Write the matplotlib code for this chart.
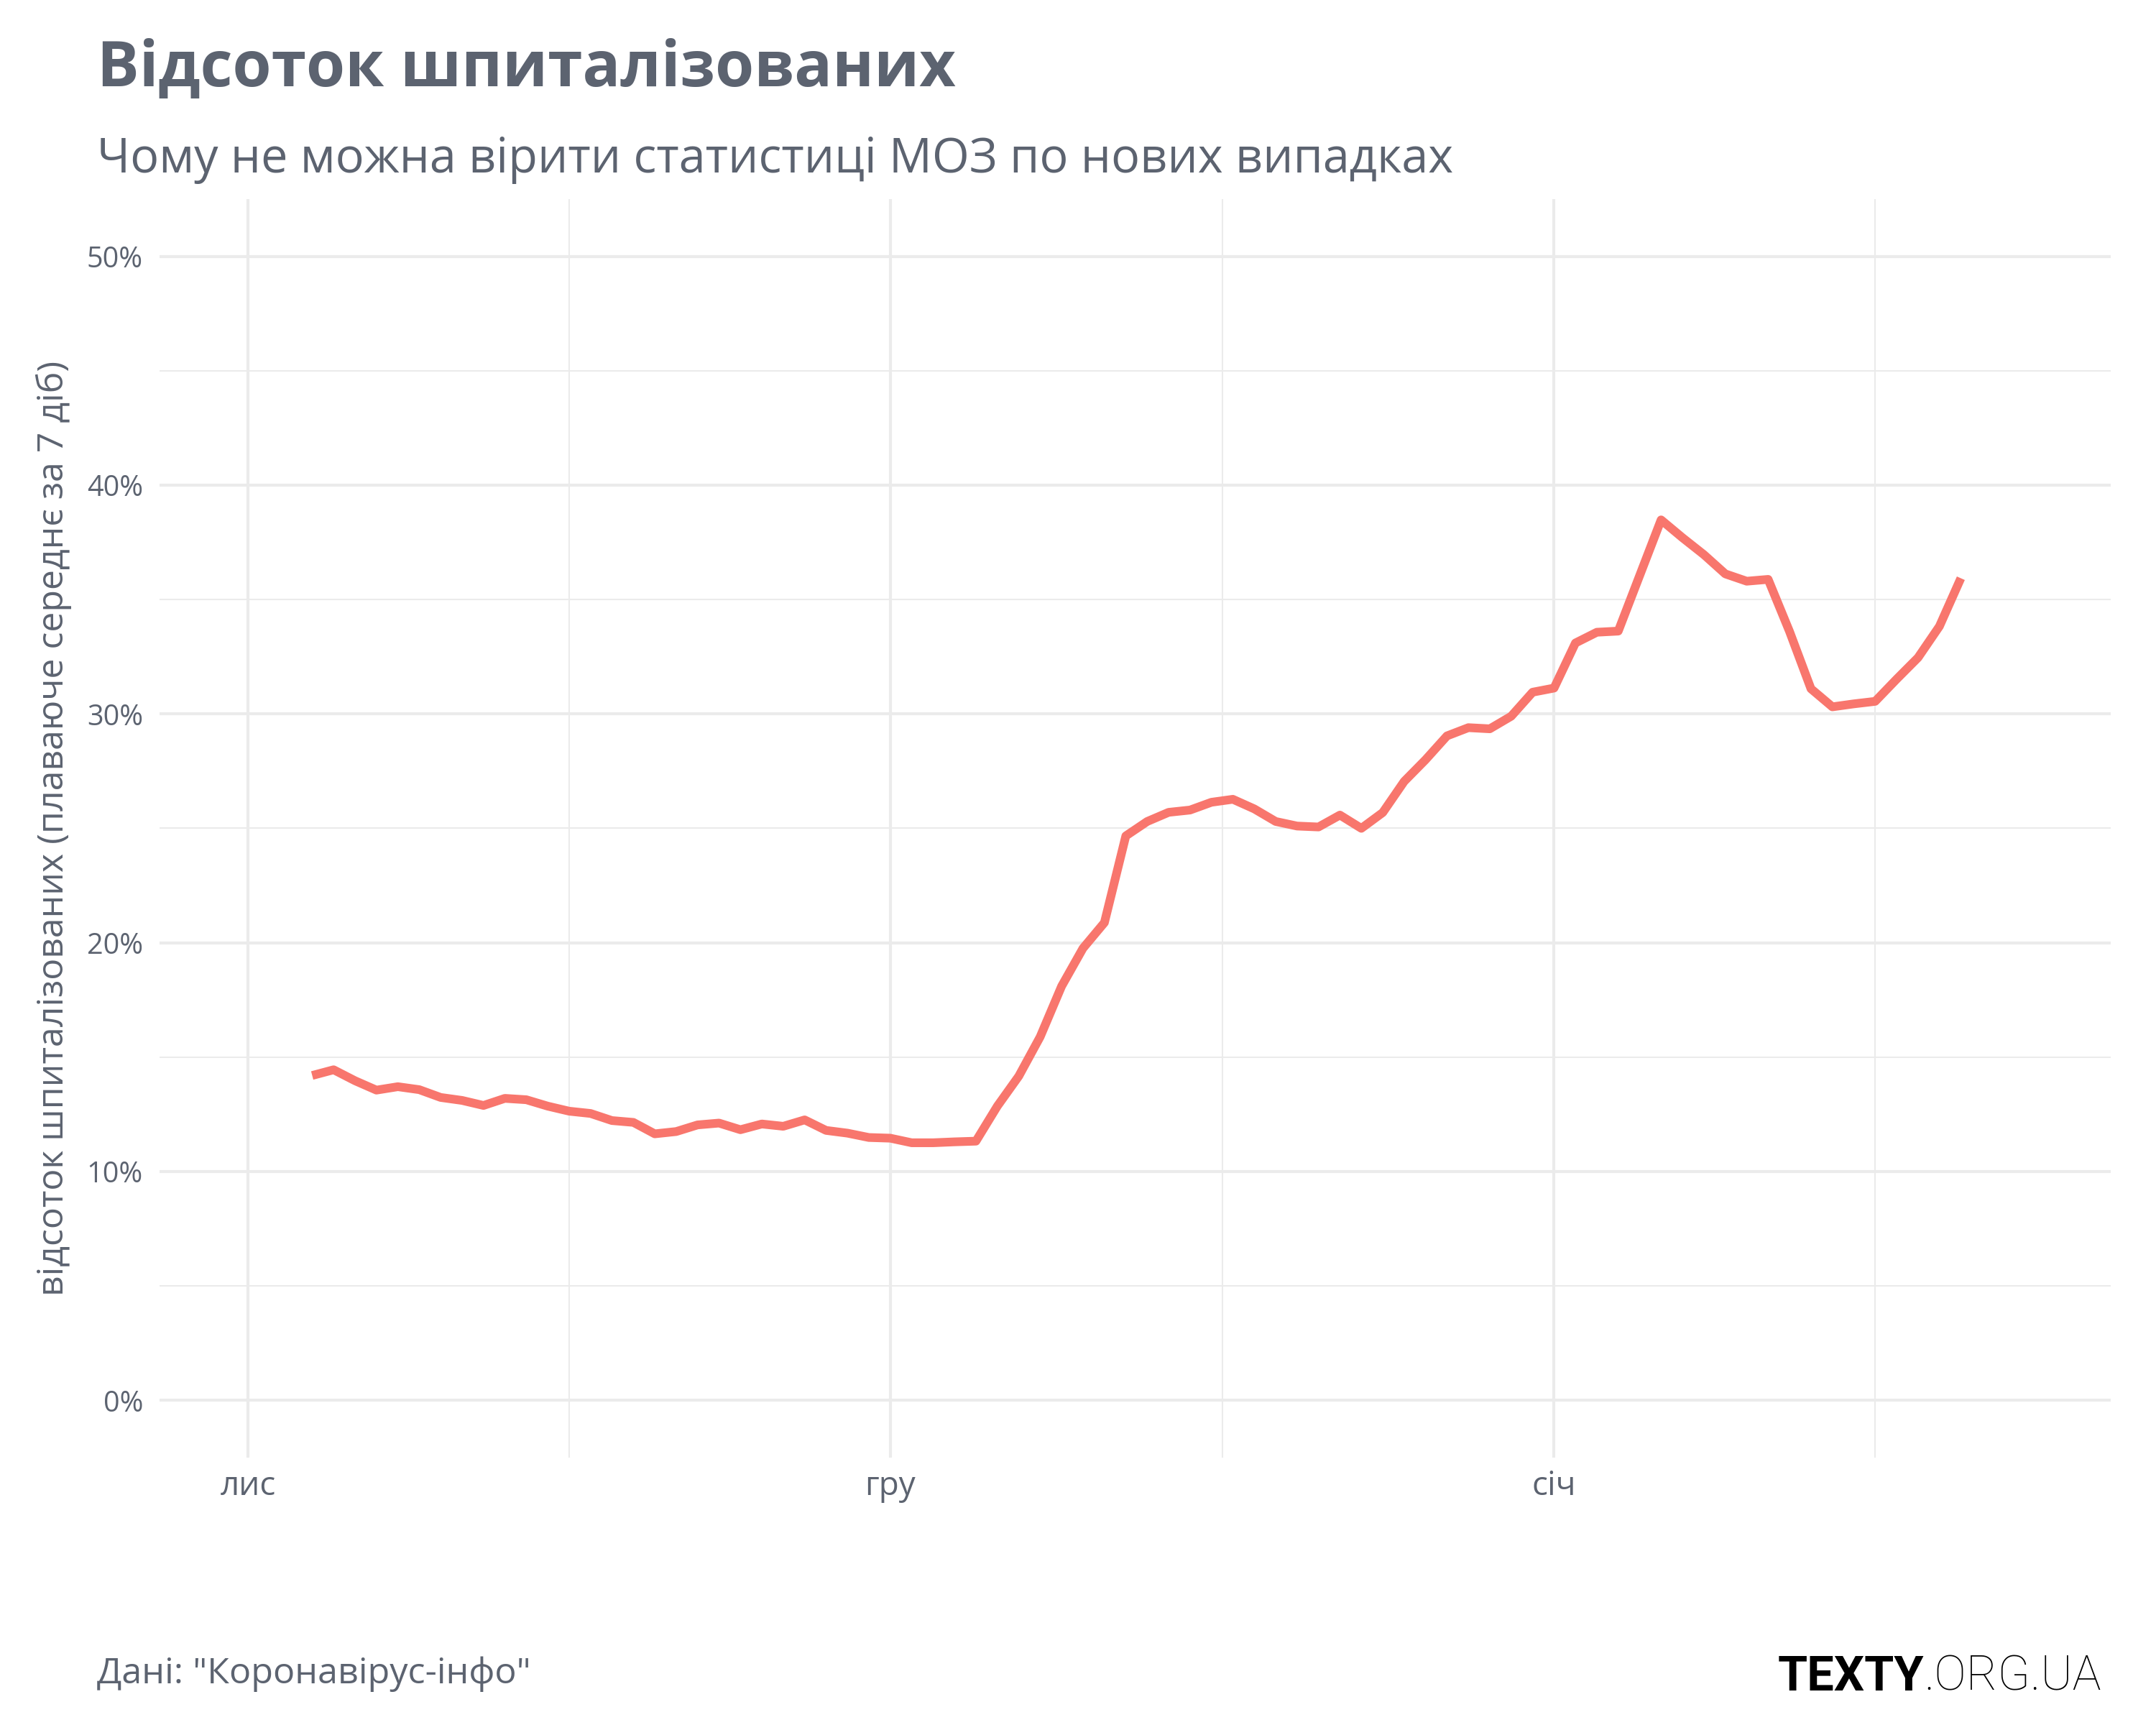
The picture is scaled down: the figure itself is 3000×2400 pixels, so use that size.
import matplotlib
matplotlib.use("Agg")
import matplotlib.pyplot as plt
import matplotlib.dates as mdates
import matplotlib.ticker as mticker
import pandas as pd

# share of hospitalised, 7-day rolling mean, %
start_date = "2020-11-04"
hosp_share = [
    14.2, 14.45, 13.97, 13.56, 13.71, 13.58, 13.24, 13.11, 12.89, 13.2,
    13.14, 12.86, 12.64, 12.54, 12.23, 12.15, 11.65, 11.75, 12.04, 12.12,
    11.83, 12.08, 11.98, 12.26, 11.8, 11.68, 11.49, 11.46, 11.26, 11.26,
    11.3, 11.33, 12.86, 14.17, 15.89, 18.1, 19.76, 20.88, 24.67, 25.3,
    25.7, 25.8, 26.14, 26.27, 25.85, 25.3, 25.1, 25.06, 25.58, 25.0,
    25.69, 27.05, 28.0, 29.04, 29.4, 29.35, 29.9, 30.95, 31.13, 33.1,
    33.57, 33.62, 36.05, 38.48, 37.7, 36.96, 36.12, 35.8, 35.88, 33.6,
    31.1, 30.31, 30.44, 30.55, 31.52, 32.46, 33.83, 35.93,
]
dates = pd.date_range(start_date, periods=len(hosp_share), freq="D")

month_ticks = pd.to_datetime(["2020-11-01", "2020-12-01", "2021-01-01"])
month_labels = ["лис", "гру", "січ"]
minor_ticks = pd.to_datetime(["2020-11-16 00:00", "2020-12-16 12:00", "2021-01-16 00:00"])
y_ticks = [0, 10, 20, 30, 40, 50]
y_minor = [5, 15, 25, 35, 45]

TXT = "#5c6370"
GRID = "#ebebeb"
LINE = "#F8766D"

plt.rcParams["font.family"] = ["Open Sans", "DejaVu Sans"]

fig = plt.figure(figsize=(10, 8), dpi=300)
ax = fig.add_axes([0.074, 0.155, 0.905, 0.7296])

ax.plot(dates, hosp_share, color=LINE, lw=2.9,
        solid_capstyle="butt", solid_joinstyle="round", zorder=3)

ax.set_xlim(pd.Timestamp("2020-11-01") - pd.Timedelta(days=4.13),
            pd.Timestamp("2021-01-01") + pd.Timedelta(days=26.0))
ax.set_ylim(-2.5, 52.5)

ax.xaxis.set_major_locator(mticker.FixedLocator(mdates.date2num(month_ticks)))
ax.xaxis.set_minor_locator(mticker.FixedLocator(mdates.date2num(minor_ticks)))
ax.set_xticklabels(month_labels)
ax.yaxis.set_major_locator(mticker.FixedLocator(y_ticks))
ax.yaxis.set_minor_locator(mticker.FixedLocator(y_minor))
ax.yaxis.set_major_formatter(mticker.FuncFormatter(lambda v, p: f"{v:.0f}%"))

ax.grid(which="major", color=GRID, lw=1.0)
ax.grid(which="minor", color=GRID, lw=0.5)
ax.set_axisbelow(True)
for s in ax.spines.values():
    s.set_visible(False)
ax.tick_params(which="both", length=0)
ax.tick_params(axis="y", labelsize=9.5, labelcolor=TXT, pad=5.5)
ax.tick_params(axis="x", labelsize=11, labelcolor=TXT, pad=4)

ax.set_ylabel("відсоток шпиталізованих (плаваюче середнє за 7 діб)",
              fontsize=12, color=TXT)
ax.yaxis.set_label_coords(-0.045, 0.5)

fig.text(0.045, 0.95, "Відсоток шпиталізованих", fontsize=21,
         fontweight="bold", color=TXT, ha="left", va="baseline")
fig.text(0.045, 0.90, "Чому не можна вірити статистиці МОЗ по нових випадках",
         fontsize=16, color=TXT, ha="left", va="baseline")
fig.text(0.045, 0.0242, 'Дані: "Коронавірус-інфо"', fontsize=12.1,
         color=TXT, ha="left", va="baseline")

# logo: bold TEXTY + light .ORG.UA, right aligned
r = fig.canvas.get_renderer()
t2 = fig.text(0.9747, 0.02, ".ORG.UA", fontsize=16, family=["Roboto", "DejaVu Sans"],
              fontweight="light", color="black", ha="right", va="baseline")
w = t2.get_window_extent(renderer=r).width / fig.bbox.width
fig.text(0.9747 - w, 0.02, "TEXTY", fontsize=16, family=["Roboto", "DejaVu Sans"],
         fontweight="bold", color="black", ha="right", va="baseline")

fig.savefig("out.png", dpi=300, facecolor="white")
